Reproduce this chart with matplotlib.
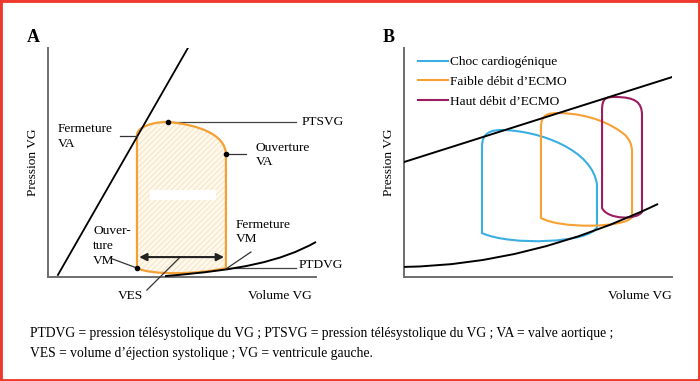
import matplotlib
matplotlib.use("Agg")
import matplotlib.pyplot as plt
from matplotlib.path import Path
from matplotlib.patches import PathPatch, Rectangle
from matplotlib.lines import Line2D

plt.rcParams['font.family'] = ['Liberation Serif', 'DejaVu Serif']
plt.rcParams['hatch.linewidth'] = 0.6

# ---- panel A data (volume, pression en unités arbitraires 0-100) ----
espvr_a = [(3.7, 0.9), (52.2, 100.0)]
# boucle P-V : codes M = moveto, L = lineto, C = bezier cubique (3 points), Q = quadratique (2 points)
loop_a_codes = "MLCCCCCCLCCC"
loop_a = [(33.2, 3.9), (33.2, 62.0),
          (33.2, 65.1), (38.1, 67.7), (44.8, 67.7),
          (56.7, 66.4), (66.4, 62.0), (66.4, 53.3),
          (66.4, 3.9),
          (54.9, 0.9), (38.1, 0.9), (33.2, 3.9)]
edpvr_a_codes = "MCCC"
edpvr_a = [(43.7, 0.4), (71.6, 3.1), (86.6, 6.6), (100.0, 15.3)]

ptsvg_y = 67.7
ptsvg_x = (44.8, 92.5)
ptdvg_y = 3.9
ptdvg_x = (66.4, 92.5)
ves_x = (34.0, 65.7)
ves_y = 8.7
points_a = [(44.8, 67.7), (66.4, 53.7), (33.2, 3.9)]

labels_a = [("PTSVG", 94.8, 67.7), ("PTDVG", 93.7, 5.2),
            ("Fermeture\nVA", 3.7, 61.4), ("Ouverture\nVA", 77.6, 53.3),
            ("Ouver-\nture\nVM", 16.8, 13.5), ("Fermeture\nVM", 70.1, 19.7)]
leaders_a = [[(26.9, 61.6), (33.2, 61.6)],
             [(66.4, 53.7), (73.9, 53.7)],
             [(23.1, 8.3), (33.2, 3.9)],
             [(75.7, 10.9), (66.4, 3.5)],
             [(49.3, 8.7), (36.9, -5.7)]]

# ---- panel B data ----
espvr_b = [(0.0, 50.2), (100.0, 87.3)]
edpvr_b_codes = "MQQ"
edpvr_b = [(0.0, 4.4), (47.0, 5.2), (94.8, 31.9)]

loop_codes_b = {
    "Choc cardiogénique": "MLCCCCCCLCCC",
    "Faible débit d’ECMO": "MLCCCCCCCCCLCCC",
    "Haut débit d’ECMO": "MLCCCCCCLCCC",
}
loops_b = {
    "Choc cardiogénique": [(29.1, 19.2), (29.1, 56.8),
                           (29.1, 62.9), (32.1, 64.2), (36.9, 64.2),
                           (50.7, 63.8), (70.5, 55.5), (72.0, 40.2),
                           (72.0, 21.8),
                           (69.4, 14.8), (39.6, 13.5), (29.1, 19.2)],
    "Faible débit d’ECMO": [(51.1, 25.8), (51.1, 65.1),
                            (51.1, 71.2), (53.7, 71.6), (58.2, 71.6),
                            (69.4, 71.2), (77.6, 66.8), (82.5, 62.0),
                            (84.3, 59.8), (85.1, 57.6), (85.1, 54.6),
                            (85.1, 26.2),
                            (82.5, 21.4), (58.2, 21.0), (51.1, 25.8)],
    "Haut débit d’ECMO": [(73.9, 30.1), (73.9, 72.9),
                          (73.9, 78.2), (75.4, 78.6), (78.7, 78.6),
                          (86.2, 78.6), (88.8, 76.4), (88.8, 70.7),
                          (88.8, 28.4),
                          (86.9, 24.9), (76.1, 24.9), (73.9, 30.1)],
}
colors_b = ["#3aaee2", "#f7a033", "#9b1d60"]

footnote = ["PTDVG = pression télésystolique du VG ; PTSVG = pression télésystolique du VG ; VA = valve aortique ;",
            "VES = volume d’éjection systolique ; VG = ventricule gauche."]

FS = 9.6
CODES = {"M": Path.MOVETO, "L": Path.LINETO, "C": Path.CURVE4, "Q": Path.CURVE3}


def make_path(pts, codes, close=False):
    c = [CODES[k] for k in codes]
    if close:
        pts = list(pts) + [pts[0]]
        c = c + [Path.CLOSEPOLY]
    return Path(pts, c)


def style_axes(ax, letter):
    ax.set_xlim(0, 100)
    ax.set_ylim(0, 100)
    for s in ["top", "right"]:
        ax.spines[s].set_visible(False)
    for s in ["left", "bottom"]:
        ax.spines[s].set_color("#6e6e6e")
        ax.spines[s].set_linewidth(1.4)
    ax.set_xticks([])
    ax.set_yticks([])
    ax.set_ylabel("Pression VG", fontsize=FS)
    ax.yaxis.set_label_coords(-0.035, 0.5)
    ax.text(0.985 if letter == "A" else 1.0, -0.083, "Volume VG", transform=ax.transAxes,
            ha="right", va="center", fontsize=FS)
    ax.text(-0.056, 1.047, letter, transform=ax.transAxes, ha="center", va="center",
            fontsize=13, fontweight="bold")


fig = plt.figure(figsize=(7, 3.81), dpi=100)

# ---------------- Panel A ----------------
axA = fig.add_axes([48 / 700, 1 - 277 / 381, 268 / 700, 229 / 381])
style_axes(axA, "A")

pa = make_path(loop_a, loop_a_codes, close=True)
axA.add_patch(PathPatch(pa, facecolor="#fff8ec", edgecolor="none", lw=0, zorder=1))
axA.add_patch(PathPatch(pa, facecolor="none", edgecolor="#f5e2bd", lw=0, hatch="//////", zorder=1.5))
axA.add_patch(Rectangle((38.1, 33.6), 62.7 - 38.1, 38.0 - 33.6, facecolor="white",
                        edgecolor="none", zorder=2))
axA.add_patch(PathPatch(pa, facecolor="none", edgecolor="#f5a033", lw=1.6, zorder=3))

axA.plot([p[0] for p in espvr_a], [p[1] for p in espvr_a], color="black", lw=1.3, zorder=4)
axA.add_patch(PathPatch(make_path(edpvr_a, edpvr_a_codes), facecolor="none",
                        edgecolor="black", lw=1.4, zorder=4, clip_on=False))
axA.plot(ptsvg_x, [ptsvg_y, ptsvg_y], color="#444444", lw=0.9, zorder=2)
axA.plot(ptdvg_x, [ptdvg_y, ptdvg_y], color="#444444", lw=0.9, zorder=2)
for seg in leaders_a:
    axA.plot([p[0] for p in seg], [p[1] for p in seg], color="#333333", lw=0.9,
             zorder=5, clip_on=False)
axA.plot([p[0] for p in points_a], [p[1] for p in points_a], "o", color="black",
         ms=3, zorder=6, ls="none")
axA.annotate("", xy=(ves_x[0], ves_y), xytext=(ves_x[1], ves_y),
             arrowprops=dict(arrowstyle="<|-|>", color="#222222", lw=1.5,
                             shrinkA=0, shrinkB=0, mutation_scale=11), zorder=6)
for txt, x, y in labels_a:
    axA.text(x, y, txt, fontsize=FS, ha="left", va="center", linespacing=1.3)
axA.text(30.6, -8.3, "VES", fontsize=FS, ha="center", va="center")

# ---------------- Panel B ----------------
axB = fig.add_axes([404 / 700, 1 - 277 / 381, 268 / 700, 229 / 381])
style_axes(axB, "B")
axB.yaxis.set_label_coords(-0.034, 0.5)

axB.plot([p[0] for p in espvr_b], [p[1] for p in espvr_b], color="black", lw=1.4, zorder=4)
axB.add_patch(PathPatch(make_path(edpvr_b, edpvr_b_codes), facecolor="none",
                        edgecolor="black", lw=1.4, zorder=4))
handles = []
for (name, pts), col in zip(loops_b.items(), colors_b):
    axB.add_patch(PathPatch(make_path(pts, loop_codes_b[name], close=True),
                            facecolor="none", edgecolor=col, lw=1.5, zorder=3))
    handles.append(Line2D([], [], color=col, lw=1.5, label=name))
axB.legend(handles=handles, loc="upper left", bbox_to_anchor=(0.053, 0.965),
           frameon=False, fontsize=FS, handlelength=2.2, handletextpad=0.15,
           labelspacing=0.56, borderpad=0, borderaxespad=0)

# ---------------- footnote + cadre ----------------
fig.text(30 / 700, 1 - 333 / 381, footnote[0], fontsize=9.8, ha="left", va="center")
fig.text(30 / 700, 1 - 353 / 381, footnote[1], fontsize=9.8, ha="left", va="center")
fig.patches.append(Rectangle((0, 0), 1, 1, transform=fig.transFigure, fill=False,
                             edgecolor="#ee3a2c", lw=3.5))

fig.savefig("out.png", dpi=100)
